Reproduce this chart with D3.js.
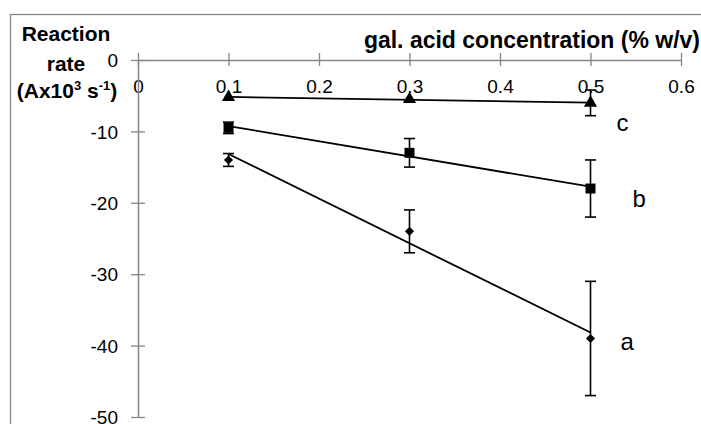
<!DOCTYPE html>
<html>
<head>
<meta charset="utf-8">
<script src="https://cdn.jsdelivr.net/npm/d3@7"></script>
<style>
  body { margin: 0; background: #fff; }
  svg { display: block; font-family: "Liberation Sans", Arial, sans-serif; }
</style>
</head>
<body>
<svg id="chart"></svg>
<script>
// gallic acid concentration (% w/v)
const concentrations = [0.1, 0.3, 0.5];
// reaction rates (Ax10^3 s^-1) and their error bars
const rateA = [-14, -24, -39];
const errA = [0.9, 3, 8];
const rateB = [-9.5, -13, -18];
const errB = [0.8, 2, 4];
const rateC = [-5.2, -5.5, -6];
const errC = [0, 0, 1.8];
const xTicks = [0, 0.1, 0.2, 0.3, 0.4, 0.5, 0.6];
const yTicks = [0, -10, -20, -30, -40, -50];
const seriesNames = ["a", "b", "c"];

const w = 701;
const h = 424;
const gray = "#868686";

const svg = d3.select("#chart").attr("width", w).attr("height", h);

// chart area border (runs off the right and bottom)
svg.append("rect")
  .attr("x", 10.5).attr("y", 14.5)
  .attr("width", 720).attr("height", 430)
  .attr("fill", "none")
  .attr("stroke", gray)
  .attr("stroke-width", 1.3);

const x = d3.scaleLinear().domain([0, 0.6]).range([138, 681]);
const y = d3.scaleLinear().domain([0, -50]).range([60, 417]);

// x axis sits on top, at y = 0
const xAxis = svg.append("g")
  .attr("transform", "translate(0," + y(0) + ")")
  .call(d3.axisBottom(x).tickValues(xTicks).tickSize(6).tickSizeOuter(0)
    .tickFormat((d) => String(d)));
xAxis.select(".domain").attr("stroke", gray).attr("stroke-width", 1.5);
xAxis.selectAll(".tick line").attr("y1", -7).attr("stroke", gray).attr("stroke-width", 1.3);
xAxis.selectAll(".tick text")
  .attr("y", 33).attr("dy", 0)
  .attr("font-size", 19)
  .attr("font-family", "Liberation Sans, Arial, sans-serif")
  .attr("fill", "#000");

const yAxis = svg.append("g")
  .attr("transform", "translate(" + x(0) + ",0)")
  .call(d3.axisLeft(y).tickValues(yTicks).tickSize(7).tickSizeOuter(0)
    .tickFormat((d) => String(d)));
yAxis.select(".domain").attr("stroke", gray).attr("stroke-width", 1.5);
yAxis.selectAll(".tick line").attr("x1", 7).attr("stroke", gray).attr("stroke-width", 1.3);
yAxis.selectAll(".tick text")
  .attr("x", -20).attr("dy", "0.35em")
  .attr("font-size", 19)
  .attr("font-family", "Liberation Sans, Arial, sans-serif")
  .attr("fill", "#000");

// axis titles
svg.append("text")
  .attr("x", 700).attr("y", 48)
  .attr("text-anchor", "end")
  .attr("font-weight", "bold")
  .attr("font-size", 23)
  .text("gal. acid concentration (% w/v)");

const yTitle = svg.append("text")
  .attr("text-anchor", "middle")
  .attr("font-weight", "bold")
  .attr("font-size", 21);
yTitle.append("tspan").attr("x", 66).attr("y", 41).text("Reaction");
yTitle.append("tspan").attr("x", 66).attr("y", 71).text("rate");
const l3 = svg.append("text")
  .attr("x", 67).attr("y", 98)
  .attr("text-anchor", "middle")
  .attr("font-weight", "bold")
  .attr("font-size", 21);
l3.append("tspan").text("(Ax10");
l3.append("tspan").attr("font-size", 13).attr("dy", -8).text("3");
l3.append("tspan").attr("dy", 8).text(" s");
l3.append("tspan").attr("font-size", 13).attr("dy", -8).text("-1");
l3.append("tspan").attr("dy", 8).text(")");

// series
const series = [
  { name: seriesNames[0], rates: rateA, errs: errA, symbol: d3.symbolSquare, size: 42, rotate: 45, labelDx: 30, labelDy: 12 },
  { name: seriesNames[1], rates: rateB, errs: errB, symbol: d3.symbolSquare, size: 100, rotate: 0, labelDx: 42, labelDy: 18 },
  { name: seriesNames[2], rates: rateC, errs: errC, symbol: d3.symbolTriangle, size: 75, rotate: 0, labelDx: 26, labelDy: 28 }
];

series.forEach((s) => {
  const pts = concentrations.map((c, i) => ({ c: c, v: s.rates[i], e: s.errs[i] }));

  // least squares trend line
  const mx = d3.mean(pts, (d) => d.c);
  const my = d3.mean(pts, (d) => d.v);
  const slope = d3.sum(pts, (d) => (d.c - mx) * (d.v - my)) /
    d3.sum(pts, (d) => (d.c - mx) * (d.c - mx));
  const fit = (c) => my + slope * (c - mx);
  const ends = d3.extent(concentrations);
  svg.append("line")
    .attr("x1", x(ends[0])).attr("y1", y(fit(ends[0])))
    .attr("x2", x(ends[1])).attr("y2", y(fit(ends[1])))
    .attr("stroke", "#000")
    .attr("stroke-width", 1.8);

  // error bars
  const eb = svg.append("g").attr("stroke", "#000").attr("stroke-width", 1.6);
  pts.filter((d) => d.e > 0).forEach((d) => {
    eb.append("line")
      .attr("x1", x(d.c)).attr("x2", x(d.c))
      .attr("y1", y(d.v + d.e)).attr("y2", y(d.v - d.e));
    [d.v + d.e, d.v - d.e].forEach((v) => {
      eb.append("line")
        .attr("x1", x(d.c) - 5.5).attr("x2", x(d.c) + 5.5)
        .attr("y1", y(v)).attr("y2", y(v));
    });
  });

  // markers
  svg.selectAll(null)
    .data(pts)
    .enter()
    .append("path")
    .attr("d", d3.symbol().type(s.symbol).size(s.size))
    .attr("transform", (d) => "translate(" + x(d.c) + "," + y(d.v) + ") rotate(" + s.rotate + ")")
    .attr("fill", "#000");

  // series label
  const last = pts[pts.length - 1];
  svg.append("text")
    .attr("x", x(last.c) + s.labelDx)
    .attr("y", y(last.v) + s.labelDy)
    .attr("font-size", 24)
    .text(s.name);
});
</script>
</body>
</html>
